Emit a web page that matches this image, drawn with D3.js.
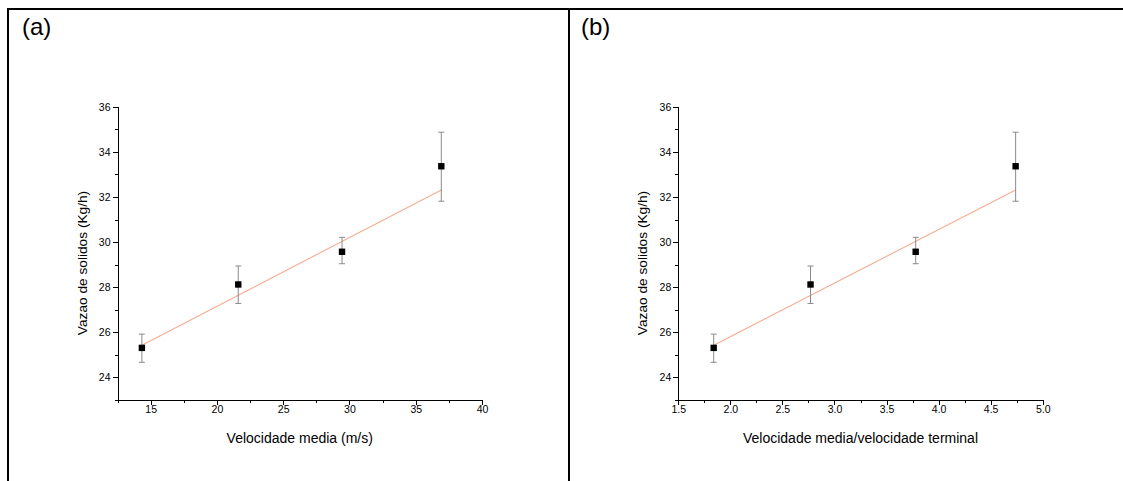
<!DOCTYPE html>
<html>
<head>
<meta charset="utf-8">
<script src="https://cdn.jsdelivr.net/npm/d3@7"></script>
<style>
  body { margin: 0; background: #fff; }
  svg { display: block; font-family: "Liberation Sans", Arial, sans-serif; }
  .axis path, .axis line { stroke: #000; stroke-width: 1; shape-rendering: crispEdges; }
  .axis text { font-size: 10.5px; fill: #000; }
</style>
</head>
<body>
<svg id="chart" width="1123" height="481"></svg>
<script>
var solidFlow = [25.31, 28.12, 29.57, 33.36];
var errLow    = [24.67, 27.28, 29.04, 31.81];
var errHigh   = [25.92, 28.94, 30.21, 34.87];
var velocity      = [14.34, 21.61, 29.44, 36.93];
var velocityRatio = [1.84, 2.77, 3.78, 4.74];
var fitEnds = [25.43, 32.31];   // linear fit value at first and last point

var yTicks = [24, 26, 28, 30, 32, 34, 36];
var yMinor = [23, 25, 27, 29, 31, 33, 35];
var xTicksA = [15, 20, 25, 30, 35, 40];
var xMinorA = [12.5, 17.5, 22.5, 27.5, 32.5, 37.5];
var xTicksB = [1.5, 2.0, 2.5, 3.0, 3.5, 4.0, 4.5, 5.0];
var xMinorB = [1.75, 2.25, 2.75, 3.25, 3.75, 4.25, 4.75];

var svg = d3.select("#chart");

// frame
svg.append("line").attr("x1", 8).attr("x2", 1123).attr("y1", 9).attr("y2", 9)
    .attr("stroke", "#000").attr("stroke-width", 2);
svg.append("line").attr("x1", 8).attr("x2", 8).attr("y1", 8).attr("y2", 481)
    .attr("stroke", "#000").attr("stroke-width", 2);
svg.append("line").attr("x1", 569).attr("x2", 569).attr("y1", 8).attr("y2", 481)
    .attr("stroke", "#000").attr("stroke-width", 2);

function drawPanel(opt)
{
    var g = svg.append("g");
    var x = d3.scaleLinear().domain(opt.xDomain).range([opt.left, opt.right]);
    var y = d3.scaleLinear().domain([23, 36]).range([400, 106.7]);

    g.append("text")
        .attr("x", opt.tagX).attr("y", 35)
        .style("font-size", "24px")
        .text(opt.tag);

    // minor ticks first
    g.append("g").attr("class", "axis")
        .attr("transform", "translate(0,400)")
        .call(d3.axisBottom(x).tickValues(opt.xMinor).tickSize(3).tickFormat(""))
        .select(".domain").remove();
    g.append("g").attr("class", "axis")
        .attr("transform", "translate(" + opt.left + ",0)")
        .call(d3.axisLeft(y).tickValues(yMinor).tickSize(3).tickFormat(""))
        .select(".domain").remove();

    g.append("g").attr("class", "axis")
        .attr("transform", "translate(0,400)")
        .call(d3.axisBottom(x).tickValues(opt.xTicks).tickSize(5).tickSizeOuter(0).tickPadding(1)
            .tickFormat(opt.xFormat));
    g.append("g").attr("class", "axis")
        .attr("transform", "translate(" + opt.left + ",0)")
        .call(d3.axisLeft(y).tickValues(yTicks).tickSize(5).tickSizeOuter(0).tickPadding(2));

    g.append("text")
        .attr("x", (opt.left + opt.right) / 2).attr("y", 443)
        .attr("text-anchor", "middle")
        .style("font-size", "14px")
        .text(opt.xLabel);

    g.append("g")
        .attr("transform", "translate(" + (opt.left - 31) + "," + 263 + ")")
        .append("text")
        .attr("text-anchor", "middle")
        .style("font-size", "13.7px")
        .attr("transform", "rotate(-90)")
        .text("Vazao de solidos (Kg/h)");

    var xs = opt.xValues;
    // fitted line
    g.append("line")
        .attr("x1", x(xs[0])).attr("y1", y(fitEnds[0]))
        .attr("x2", x(xs[xs.length - 1])).attr("y2", y(fitEnds[1]))
        .attr("stroke", "#f7ab92").attr("stroke-width", 1.1);

    var pts = d3.range(xs.length).map(function(i) {
        return {x: xs[i], y: solidFlow[i], lo: errLow[i], hi: errHigh[i]};
    });

    var err = g.selectAll(".err").data(pts).enter().append("g")
        .attr("stroke", "#8a8a8a").attr("stroke-width", 1);
    err.append("line")
        .attr("x1", function(d) { return x(d.x); })
        .attr("x2", function(d) { return x(d.x); })
        .attr("y1", function(d) { return y(d.lo); })
        .attr("y2", function(d) { return y(d.hi); });
    err.append("line")
        .attr("x1", function(d) { return x(d.x) - 3; })
        .attr("x2", function(d) { return x(d.x) + 3; })
        .attr("y1", function(d) { return y(d.hi); })
        .attr("y2", function(d) { return y(d.hi); });
    err.append("line")
        .attr("x1", function(d) { return x(d.x) - 3; })
        .attr("x2", function(d) { return x(d.x) + 3; })
        .attr("y1", function(d) { return y(d.lo); })
        .attr("y2", function(d) { return y(d.lo); });

    g.selectAll(".pt").data(pts).enter().append("rect")
        .attr("x", function(d) { return x(d.x) - 3.2; })
        .attr("y", function(d) { return y(d.y) - 3.2; })
        .attr("width", 6.4).attr("height", 6.4)
        .attr("fill", "#000");
}

drawPanel({
    tag: "(a)", tagX: 22,
    left: 117.5, right: 482,
    xDomain: [12.5, 40],
    xTicks: xTicksA, xMinor: xMinorA,
    xFormat: d3.format("d"),
    xValues: velocity,
    xLabel: "Velocidade media (m/s)"
});

drawPanel({
    tag: "(b)", tagX: 581,
    left: 678.3, right: 1042.7,
    xDomain: [1.5, 5.0],
    xTicks: xTicksB, xMinor: xMinorB,
    xFormat: d3.format(".1f"),
    xValues: velocityRatio,
    xLabel: "Velocidade media/velocidade terminal"
});
</script>
</body>
</html>
